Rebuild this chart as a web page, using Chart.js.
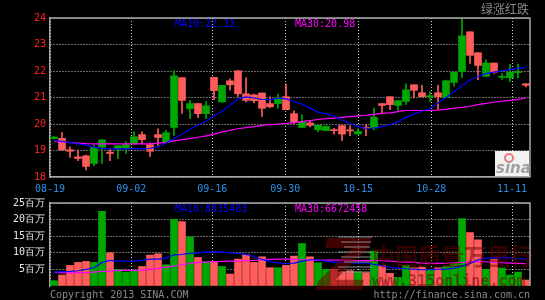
<!DOCTYPE html>
<html>
<head>
<meta charset="utf-8">
<script src="https://cdn.jsdelivr.net/npm/chart.js@4.4.1/dist/chart.umd.min.js"></script>
<style>
  html, body { margin: 0; padding: 0; background: #000; width: 545px; height: 300px; overflow: hidden; }
  #kline { position: absolute; left: 0; top: 0; }
  #vol { position: absolute; left: 0; top: 192px; }
</style>
</head>
<body>
<canvas id="kline" width="545" height="192"></canvas>
<canvas id="vol" width="545" height="108"></canvas>
<script>
// date labels and the candle slot they sit on
const xTickLabels = ['08-19', '09-02', '09-16', '09-30', '10-15', '10-28', '11-11'];
const xTickSlots = [-0.5, 9.66, 19.79, 28.91, 38.0, 47.16, 57.25];

// daily prices (60 trading days)
const openP = [19.45, 19.46, 19.03, 18.76, 18.80, 18.51, 19.12, 18.94, 19.06, 19.09,
  19.25, 19.60, 19.22, 19.60, 19.31, 19.87, 21.75, 20.58, 20.77, 20.39,
  21.76, 20.83, 21.63, 22.01, 21.14, 21.10, 21.17, 20.77, 20.77, 21.03,
  20.39, 19.87, 20.04, 19.78, 19.75, 19.77, 19.94, 19.76, 19.62, 19.86,
  19.85, 20.77, 21.03, 20.70, 20.85, 21.48, 21.18, 21.03, 21.18, 21.00,
  21.57, 21.98, 23.48, 22.69, 21.80, 22.30, 21.76, 21.74, 21.94, 21.52];
const closeP = [19.51, 19.02, 18.97, 18.70, 18.40, 19.12, 19.40, 18.89, 19.18, 19.22,
  19.52, 19.41, 18.97, 19.49, 19.67, 21.82, 20.89, 20.77, 20.39, 20.69,
  21.26, 21.46, 21.48, 21.14, 20.89, 20.88, 20.59, 20.65, 20.98, 20.54,
  20.08, 20.08, 19.95, 19.95, 19.91, 19.75, 19.62, 19.74, 19.72, 19.84,
  20.25, 20.70, 20.73, 20.88, 21.29, 21.27, 21.03, 21.05, 21.03, 21.63,
  21.95, 23.33, 22.59, 22.21, 22.30, 21.95, 21.78, 21.95, 21.96, 21.46];
const highP = [19.53, 19.68, 19.14, 19.02, 18.83, 19.20, 19.40, 19.07, 19.18, 19.34,
  19.70, 19.70, 19.29, 19.82, 19.76, 22.01, 21.75, 20.89, 20.77, 20.85,
  21.76, 21.46, 21.70, 22.01, 21.74, 21.13, 21.17, 21.03, 21.13, 21.52,
  20.50, 20.35, 20.13, 19.95, 19.93, 19.84, 19.94, 19.94, 19.82, 19.98,
  20.60, 20.77, 21.03, 20.88, 21.52, 21.48, 21.46, 21.21, 21.46, 21.66,
  21.95, 24.00, 23.48, 22.69, 22.42, 22.30, 21.90, 22.25, 22.25, 21.52];
const lowP = [19.43, 19.02, 18.74, 18.62, 18.27, 18.43, 18.51, 18.62, 18.69, 18.89,
  19.25, 19.25, 18.78, 19.19, 19.31, 19.57, 20.40, 20.20, 20.25, 20.20,
  20.92, 20.82, 21.29, 21.04, 20.83, 20.80, 20.29, 20.62, 20.60, 20.54,
  20.00, 19.87, 19.89, 19.71, 19.75, 19.62, 19.37, 19.56, 19.62, 19.56,
  19.78, 20.38, 20.54, 20.48, 20.73, 20.98, 21.03, 20.85, 20.54, 21.00,
  21.43, 21.76, 22.29, 21.67, 21.80, 21.90, 21.68, 21.60, 21.74, 21.40];
const ma10P = [19.37, 19.35, 19.30, 19.25, 19.20, 19.13, 19.08, 19.06, 19.06, 19.06,
  19.06, 19.06, 19.08, 19.14, 19.28, 19.45, 19.62, 19.80, 19.95, 20.10,
  20.30, 20.48, 20.72, 20.95, 21.02, 20.98, 20.93, 20.92, 20.98, 20.95,
  20.85, 20.75, 20.60, 20.45, 20.38, 20.30, 20.15, 20.02, 19.90, 19.84,
  19.85, 19.90, 19.98, 20.08, 20.25, 20.38, 20.48, 20.58, 20.79, 21.00,
  21.22, 21.45, 21.65, 21.80, 21.90, 21.96, 22.02, 22.05, 22.10, 22.13];
const ma30P = [19.34, 19.32, 19.30, 19.28, 19.26, 19.25, 19.25, 19.25, 19.25, 19.25,
  19.25, 19.25, 19.25, 19.28, 19.31, 19.36, 19.41, 19.45, 19.50, 19.55,
  19.62, 19.70, 19.76, 19.82, 19.86, 19.90, 19.95, 19.98, 20.00, 20.02,
  20.05, 20.09, 20.13, 20.17, 20.20, 20.22, 20.25, 20.28, 20.31, 20.33,
  20.36, 20.40, 20.42, 20.47, 20.51, 20.51, 20.51, 20.51, 20.52, 20.55,
  20.60, 20.63, 20.67, 20.73, 20.78, 20.82, 20.86, 20.89, 20.93, 20.98];

// volume in millions of shares
const volM = [1.6, 3.3, 6.2, 7.1, 7.4, 7.1, 22.5, 10.0, 5.0, 4.2,
  4.7, 5.9, 9.3, 9.7, 6.4, 20.1, 19.4, 14.8, 8.6, 7.3,
  7.3, 5.9, 3.6, 8.1, 9.5, 7.1, 8.8, 5.5, 5.5, 6.2,
  9.0, 12.8, 8.8, 7.0, 5.0, 5.0, 4.2, 4.6, 4.3, 4.0,
  10.5, 6.2, 3.8, 2.6, 6.2, 5.5, 5.7, 5.0, 5.5, 6.0,
  7.0, 20.3, 16.1, 13.9, 5.0, 8.1, 5.4, 3.3, 4.2, 1.8];
const volMa10 = [4.2, 4.3, 4.4, 4.6, 5.0, 5.5, 7.1, 7.7, 7.5, 7.5,
  7.5, 7.7, 8.1, 8.1, 8.4, 9.4, 9.5, 9.8, 10.0, 10.2,
  10.3, 10.2, 10.0, 9.8, 9.5, 8.9, 8.0, 7.4, 6.9, 6.7,
  6.9, 7.4, 7.9, 7.9, 7.5, 7.1, 7.1, 7.0, 6.9, 7.0,
  6.5, 6.1, 5.6, 5.4, 5.2, 5.1, 4.9, 4.9, 5.0, 5.1,
  5.4, 6.0, 6.8, 7.9, 8.4, 8.5, 8.5, 8.5, 8.2, 8.0];
const volMa30 = [4.1, 4.0, 3.9, 4.0, 4.0, 4.2, 4.4, 4.5, 4.7, 4.7,
  4.7, 4.8, 5.0, 5.3, 5.7, 6.0, 6.4, 6.8, 7.1, 7.2,
  7.3, 7.4, 7.5, 7.5, 7.6, 7.7, 7.9, 8.0, 8.1, 8.1,
  8.0, 7.9, 7.8, 7.8, 7.8, 7.8, 7.8, 7.7, 7.6, 7.7,
  7.6, 7.6, 7.5, 7.3, 7.2, 7.1, 6.9, 6.8, 6.8, 6.8,
  7.0, 7.1, 7.3, 7.4, 7.3, 7.1, 7.0, 6.9, 6.8, 6.7];

const priceMaText = ['MA10:22.13', 'MA30:20.98'];
const volMaText = ['MA10:8035403', 'MA30:6672458'];

const UP = '#00a800', DOWN = '#ff5c5c';
const MONO = '"DejaVu Sans Mono", monospace';
const isUp = openP.map((o, i) => closeP[i] >= o);
const candleColors = isUp.map(u => u ? UP : DOWN);

const xy = arr => arr.map((v, i) => ({ x: i, y: v }));

// grey box round the plot area (top + right, left/bottom come from axes)
const frame = {
  id: 'frame',
  afterDraw(chart) {
    const { ctx, chartArea: a } = chart;
    ctx.save();
    ctx.strokeStyle = '#a8a8a8';
    ctx.lineWidth = 1.5;
    ctx.beginPath();
    ctx.moveTo(a.left, a.top);
    ctx.lineTo(a.right, a.top);
    ctx.lineTo(a.right, a.bottom);
    ctx.stroke();
    ctx.restore();
  }
};

const xScale = (showLabels, showBorder, h) => ({
  type: 'linear',
  min: -0.5,
  max: 59.5,
  offset: false,
  afterBuildTicks: s => { s.ticks = xTickSlots.map(v => ({ value: v })); },
  afterFit: s => { s.height = h; },
  grid: { color: '#d0d0d0', lineWidth: 1, drawTicks: false, offset: false },
  border: { display: showBorder, color: '#a8a8a8', width: 1.5, dash: [1, 2] },
  ticks: {
    display: showLabels,
    autoSkip: false,
    maxRotation: 0,
    padding: 6,
    color: '#2a8fe8',
    font: { family: MONO, size: 10 },
    callback: (v, i) => xTickLabels[i]
  }
});

// price chart
new Chart(document.getElementById('kline'), {
  type: 'bar',
  data: {
    datasets: [
      { type: 'line', data: xy(ma10P), borderColor: '#0000ff', borderWidth: 1.2, pointRadius: 0, order: 1 },
      { type: 'line', data: xy(ma30P), borderColor: '#ff00ff', borderWidth: 1.2, pointRadius: 0, order: 1 },
      {
        data: openP.map((o, i) => ({ x: i, y: [o, closeP[i]] })),
        backgroundColor: candleColors, barThickness: 7, minBarLength: 1, grouped: false, order: 2
      },
      {
        data: lowP.map((l, i) => ({ x: i, y: [l, highP[i]] })),
        backgroundColor: candleColors, barThickness: 1, grouped: false, order: 3
      }
    ]
  },
  options: {
    responsive: false,
    animation: false,
    layout: { padding: { top: 18, right: 15, left: 0, bottom: 0 } },
    plugins: { legend: { display: false }, tooltip: { enabled: false } },
    scales: {
      x: xScale(true, true, 15),
      y: {
        min: 18,
        max: 24,
        afterFit: s => { s.width = 50; },
        grid: { color: '#d0d0d0', drawTicks: false },
        border: { color: '#a8a8a8', width: 1.5, dash: [1, 2] },
        ticks: { stepSize: 1, padding: 4, color: '#ff2020', font: { family: MONO, size: 10 } }
      }
    }
  },
  plugins: [frame, {
    id: 'kText',
    afterDraw(chart) {
      const { ctx, chartArea: a } = chart;
      ctx.save();
      ctx.textBaseline = 'middle';
      ctx.font = '10px ' + MONO;
      ctx.fillStyle = '#0000ff';
      ctx.fillText(priceMaText[0], 175, 24);
      ctx.fillStyle = '#ff00ff';
      ctx.fillText(priceMaText[1], 295, 24);
      ctx.textAlign = 'right';
      ctx.fillStyle = '#8a8a8a';
      ctx.font = '12px "Noto Sans CJK SC"';
      ctx.fillText('绿涨红跌', 529, 9);
      // sina logo block
      ctx.fillStyle = '#f2f2f2';
      ctx.fillRect(a.right - 35, a.bottom - 26, 34, 25);
      ctx.strokeStyle = '#f07878';
      ctx.lineWidth = 2;
      ctx.beginPath();
      ctx.arc(a.right - 21, a.bottom - 19, 4, 0, Math.PI * 2);
      ctx.stroke();
      ctx.textAlign = 'left';
      ctx.fillStyle = '#a0a0a0';
      ctx.font = 'italic bold 15px "DejaVu Sans"';
      ctx.fillText('sina', a.right - 34, a.bottom - 8);
      ctx.restore();
    }
  }]
});

// volume chart
new Chart(document.getElementById('vol'), {
  type: 'bar',
  data: {
    datasets: [
      { type: 'line', data: xy(volMa10), borderColor: '#0000ff', borderWidth: 1.2, pointRadius: 0, order: 1 },
      { type: 'line', data: xy(volMa30), borderColor: '#ff00ff', borderWidth: 1.2, pointRadius: 0, order: 1 },
      {
        data: xy(volM),
        backgroundColor: candleColors, barThickness: 7, grouped: false, order: 2
      }
    ]
  },
  options: {
    responsive: false,
    animation: false,
    layout: { padding: { top: 8, right: 15, left: 0, bottom: 0 } },
    plugins: { legend: { display: false }, tooltip: { enabled: false } },
    scales: {
      x: xScale(false, false, 14),
      y: {
        min: 0,
        max: 25,
        afterFit: s => { s.width = 50; },
        grid: {
          color: c => c.tick && c.tick.value === 0 ? 'rgba(0,0,0,0)' : '#d0d0d0',
          drawTicks: false
        },
        border: { color: '#a8a8a8', width: 1.5, dash: [1, 2] },
        ticks: {
          stepSize: 5,
          padding: 5,
          color: '#e8e8e8',
          font: { family: MONO, size: 10 },
          callback: v => v === 0 ? '' : v + '百万'
        }
      }
    }
  },
  plugins: [frame, {
    id: 'vText',
    afterDatasetsDraw(chart) {
      const { ctx } = chart;
      ctx.save();
      // faint watermark over the bars
      ctx.fillStyle = 'rgba(120,0,0,0.55)';
      ctx.font = 'italic bold 72px "DejaVu Sans"';
      ctx.fillText('Z', 318, 98);
      ctx.fillStyle = 'rgba(150,150,150,0.45)';
      for (let k = 0; k < 8; k++) ctx.fillRect(338 + (k % 3) * 3, 44 + k * 5, 34 - (k % 3) * 4, 2);
      ctx.fillStyle = 'rgba(110,0,0,0.5)';
      ctx.font = 'bold 23px "Noto Sans CJK SC"';
      ctx.fillText('中国质量万里行', 372, 73);
      ctx.font = 'bold 15px ' + MONO;
      ctx.fillText('www.315online.com', 372, 94);
      ctx.restore();
    },
    afterDraw(chart) {
      const { ctx, chartArea: a } = chart;
      ctx.save();
      ctx.textBaseline = 'middle';
      ctx.font = '10px ' + MONO;
      ctx.fillStyle = '#0000ff';
      ctx.fillText(volMaText[0], 175, a.top + 6);
      ctx.fillStyle = '#ff00ff';
      ctx.fillText(volMaText[1], 295, a.top + 6);
      ctx.fillStyle = '#8a8a8a';
      ctx.fillText('Copyright 2013 SINA.COM', 50, a.bottom + 9);
      ctx.textAlign = 'right';
      ctx.fillText('http://finance.sina.com.cn', 530, a.bottom + 9);
      ctx.restore();
    }
  }]
});
</script>
</body>
</html>
